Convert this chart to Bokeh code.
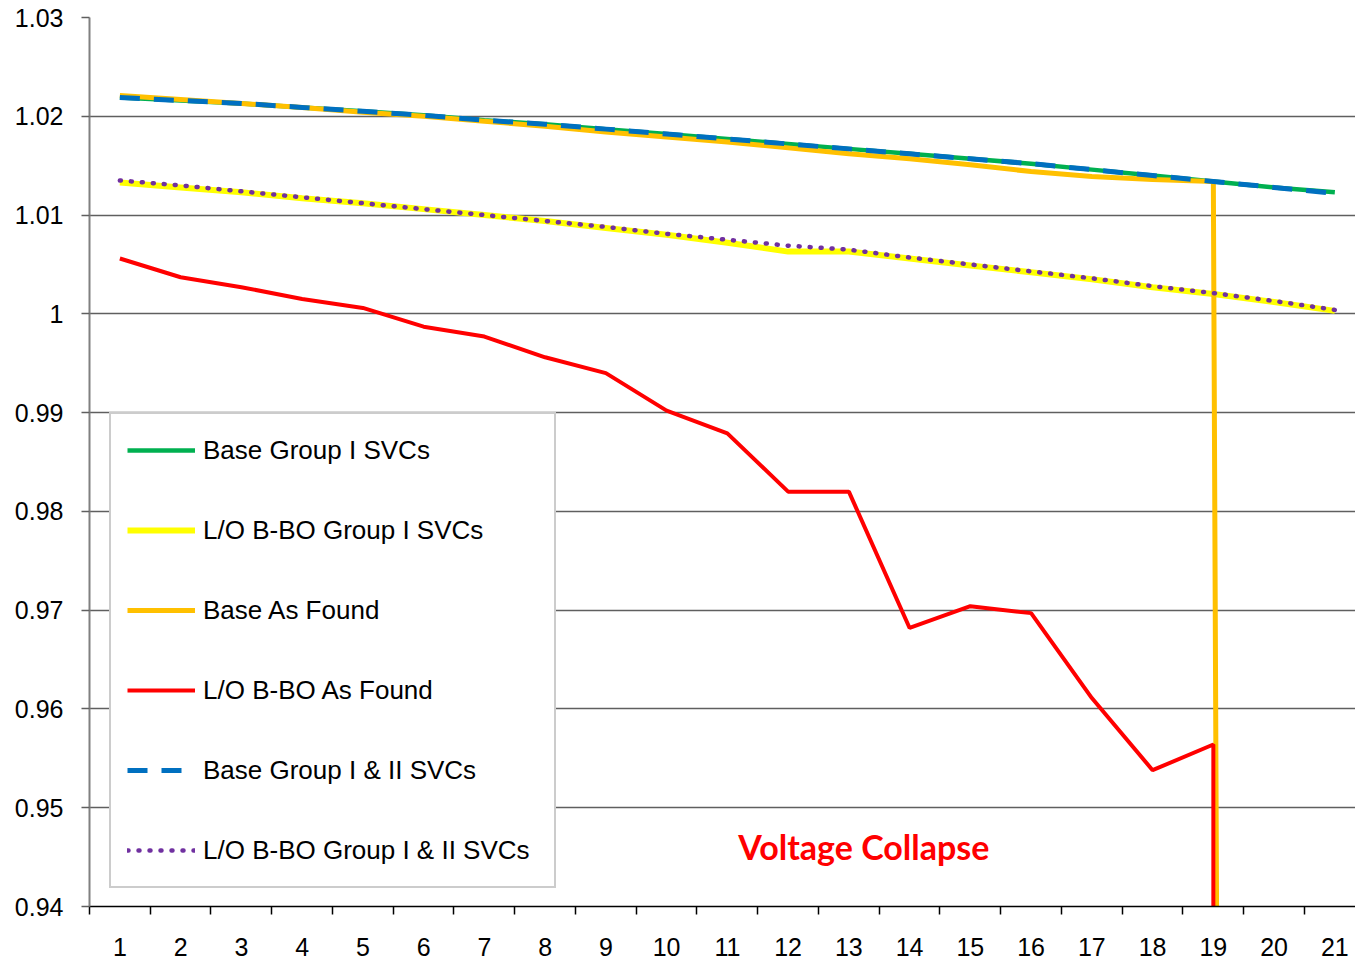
from bokeh.plotting import figure
from bokeh.models import (FixedTicker, NumeralTickFormatter, Legend, LegendItem,
                          Range1d, ColumnDataSource)
from bokeh.core.properties import value
from bokeh.embed import file_html
from bokeh.resources import INLINE

# ---------------- data ----------------
steps = list(range(1, 22))
y_ticks = [round(0.94 + 0.01 * i, 2) for i in range(10)]

base_group1 = [1.0219, 1.0216, 1.0213, 1.0209, 1.0205, 1.0201, 1.0196, 1.0192, 1.0187, 1.0182,
               1.0177, 1.0172, 1.0167, 1.0162, 1.0157, 1.0152, 1.0146, 1.0140, 1.0134, 1.0128, 1.0123]
lobbo_group1 = [1.0133, 1.0128, 1.0123, 1.0117, 1.0112, 1.0106, 1.0100, 1.0094, 1.0087, 1.0080,
                1.0072, 1.0063, 1.0063, 1.0056, 1.0049, 1.0042, 1.0035, 1.0027, 1.0020, 1.0012, 1.0003]
base_as_found_x = list(range(1, 20)) + [19.06]
base_as_found = [1.0221, 1.0217, 1.0213, 1.0209, 1.0204, 1.0200, 1.0195, 1.0190, 1.0184, 1.0179,
                 1.0174, 1.0168, 1.0162, 1.0157, 1.0151, 1.0144, 1.0139, 1.0136, 1.0134, 0.93]
lobbo_as_found_x = list(range(1, 20)) + [19]
lobbo_as_found = [1.0056, 1.0037, 1.0027, 1.0015, 1.0006, 0.9987, 0.9977, 0.9956, 0.9940, 0.9902,
                  0.9879, 0.9820, 0.9820, 0.9682, 0.9704, 0.9697, 0.9611, 0.9538, 0.9564, 0.93]
base_group12 = [1.0219, 1.0216, 1.0213, 1.0209, 1.0205, 1.0201, 1.0196, 1.0192, 1.0187, 1.0182,
                1.0177, 1.0172, 1.0167, 1.0162, 1.0157, 1.0152, 1.0146, 1.0140, 1.0134, 1.0128, 1.0122]
lobbo_group12 = [1.0135, 1.0130, 1.0124, 1.0118, 1.0112, 1.0106, 1.0100, 1.0094, 1.0088, 1.0081,
                 1.0075, 1.0069, 1.0065, 1.0057, 1.0050, 1.0043, 1.0036, 1.0028, 1.0021, 1.0013, 1.0004]

labels = ["Base Group I SVCs", "L/O B-BO Group I SVCs", "Base As Found",
          "L/O B-BO As Found", "Base Group I & II SVCs", "L/O B-BO Group I & II SVCs"]
annotation_text = ["Voltage Collapse"]
annotation_x = [11.18]
annotation_y = [0.9461]

FONT = "Liberation Sans"

p = figure(width=1355, height=960, output_backend="svg", toolbar_location=None,
           x_range=Range1d(0.5, 21.34), y_range=Range1d(0.94, 1.03),
           min_border_left=89, min_border_top=17, min_border_bottom=54, min_border_right=0)
p.outline_line_color = None
p.background_fill_color = "white"

# grid
p.xgrid.visible = False
p.ygrid.ticker = FixedTicker(ticks=y_ticks)
p.ygrid.grid_line_color = "#5f5f5f"
p.ygrid.grid_line_width = 1.5

# x axis
xa = p.xaxis[0]
xa.ticker = FixedTicker(ticks=steps, minor_ticks=[i + 0.5 for i in range(0, 22)])
xa.major_tick_out = 0
xa.major_tick_in = 0
xa.minor_tick_out = 8
xa.minor_tick_in = 0
xa.minor_tick_line_color = "black"
xa.minor_tick_line_width = 1.5
xa.axis_line_color = "black"
xa.axis_line_width = 1.5
xa.major_label_text_font = FONT
xa.major_label_text_font_size = "25px"
xa.major_label_text_color = "black"
xa.major_label_standoff = 23

# y axis
ya = p.yaxis[0]
ya.ticker = FixedTicker(ticks=y_ticks)
ya.formatter = NumeralTickFormatter(format="0.[00]")
ya.minor_tick_line_color = None
ya.major_tick_out = 8
ya.major_tick_in = 0
ya.major_tick_line_color = "#5f5f5f"
ya.major_tick_line_width = 1.5
ya.axis_line_color = "#808080"
ya.axis_line_width = 2
ya.major_label_text_font = FONT
ya.major_label_text_font_size = "25px"
ya.major_label_text_color = "black"
ya.major_label_standoff = 18

# series
r_green = p.line(steps, base_group1, line_color="#00B050", line_width=4.5)
r_yellow = p.line(steps, lobbo_group1, line_color="#FFFF00", line_width=6)
r_orange = p.line(base_as_found_x, base_as_found, line_color="#FFC000", line_width=5)
r_red = p.line(lobbo_as_found_x, lobbo_as_found, line_color="#FF0000", line_width=4)
r_blue = p.line(steps, base_group12, line_color="#0070C0", line_width=5, line_dash="20 14")
r_purple = p.line(steps, lobbo_group12, line_color="#7030A0", line_width=4.5,
                  line_dash="1 10", line_cap="round")

src = ColumnDataSource(dict(x=annotation_x, y=annotation_y, t=annotation_text))
p.text(x="x", y="y", text="t", source=src, text_color="#FF0000",
       text_font=value("Lato"), text_font_style="bold", text_font_size="34px",
       text_baseline="middle", text_align="left")

legend = Legend(items=[LegendItem(label=l, renderers=[r]) for l, r in
                       zip(labels, [r_green, r_yellow, r_orange, r_red, r_blue, r_purple])],
                location=(20, 18), orientation="vertical")
legend.label_text_font = FONT
legend.label_text_font_size = "26px"
legend.label_text_color = "black"
legend.label_height = 40
legend.label_width = 335
legend.glyph_height = 40
legend.glyph_width = 68
legend.label_standoff = 8
legend.spacing = 40
legend.padding = 16
legend.margin = 0
legend.border_line_color = "#999999"
legend.border_line_width = 2
legend.background_fill_color = "white"
legend.background_fill_alpha = 1
p.add_layout(legend)

open("out.html", "w").write(file_html(p, INLINE))
